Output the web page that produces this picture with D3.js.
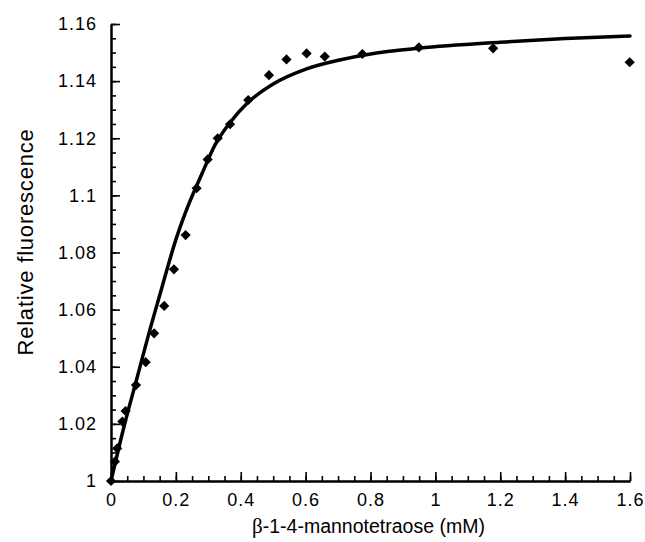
<!DOCTYPE html>
<html>
<head>
<meta charset="utf-8">
<script src="https://cdn.jsdelivr.net/npm/d3@7"></script>
<style>
  html, body { margin: 0; padding: 0; background: #fff; }
  svg { display: block; font-family: "Liberation Sans", Arial, sans-serif; }
</style>
</head>
<body>
<div id="chart"></div>
<script>
// Binding data (relative fluorescence vs. concentration)
const concMM = [0, 0.012, 0.019, 0.035, 0.045, 0.077, 0.107, 0.133, 0.164, 0.194,
  0.230, 0.264, 0.298, 0.329, 0.367, 0.423, 0.487, 0.541, 0.603, 0.659,
  0.775, 0.949, 1.178, 1.599];
const relFluor = [1.000, 1.0068, 1.0114, 1.0208, 1.0245, 1.0336, 1.0416, 1.0517, 1.0613, 1.0741,
  1.0861, 1.1025, 1.1126, 1.1200, 1.1249, 1.1334, 1.1421, 1.1476, 1.1497, 1.1486,
  1.1495, 1.1518, 1.1515, 1.1466];

// fitted curve
const fitX = [0, 0.040, 0.080, 0.120, 0.160, 0.200, 0.240, 0.280, 0.320, 0.367,
  0.422, 0.500, 0.603, 0.705, 0.800, 0.950, 1.200, 1.400, 1.600];
const fitY = [1.000, 1.0190, 1.0360, 1.0530, 1.0690, 1.0845, 1.0970, 1.1075, 1.1175, 1.1255,
  1.1325, 1.1390, 1.1443, 1.1474, 1.1495, 1.1515, 1.1536, 1.1549, 1.1558];

const xTickValues = [0, 0.2, 0.4, 0.6, 0.8, 1, 1.2, 1.4, 1.6];
const xTickLabels = ["0", "0.2", "0.4", "0.6", "0.8", "1", "1.2", "1.4", "1.6"];
const yTickValues = [1, 1.02, 1.04, 1.06, 1.08, 1.1, 1.12, 1.14, 1.16];
const yTickLabels = ["1", "1.02", "1.04", "1.06", "1.08", "1.1", "1.12", "1.14", "1.16"];

(function() {
  const W = 645, H = 542;
  const margin = { top: 24, right: 15, bottom: 61, left: 111 };
  const width = W - margin.left - margin.right;
  const height = H - margin.top - margin.bottom;

  const svg = d3.select("#chart").append("svg")
    .attr("width", W).attr("height", H);
  const g = svg.append("g").attr("transform", `translate(${margin.left},${margin.top})`);

  const x = d3.scaleLinear().domain([0, 1.6]).range([0, width]);
  const y = d3.scaleLinear().domain([1, 1.16]).range([height, 0]);

  // minor ticks (no labels), pointing inward
  g.append("g").attr("class", "x-minor")
    .attr("transform", `translate(0,${height})`)
    .call(d3.axisBottom(x).tickValues(x.ticks(32)).tickSize(-5).tickSizeOuter(0).tickFormat(""));
  g.append("g").attr("class", "y-minor")
    .call(d3.axisLeft(y).tickValues(y.ticks(32)).tickSize(-5).tickSizeOuter(0).tickFormat(""));

  // major ticks with labels
  const xAxis = g.append("g").attr("class", "x-major")
    .attr("transform", `translate(0,${height})`)
    .call(d3.axisBottom(x).tickValues(xTickValues).tickSize(-9).tickSizeOuter(0)
      .tickPadding(12).tickFormat((d, i) => xTickLabels[i]));
  const yAxis = g.append("g").attr("class", "y-major")
    .call(d3.axisLeft(y).tickValues(yTickValues).tickSize(-9).tickSizeOuter(0)
      .tickPadding(14).tickFormat((d, i) => yTickLabels[i]));

  g.selectAll(".domain").attr("stroke", "#000").attr("stroke-width", 2);
  g.selectAll(".tick line").attr("stroke", "#000").attr("stroke-width", 1.6);
  [xAxis, yAxis].forEach(a => a.selectAll("text")
    .style("font-size", "18px").style("letter-spacing", "1px").attr("fill", "#000"));
  xAxis.selectAll("text").attr("dy", "0.72em");

  // fitted curve
  const fitData = fitX.map((v, i) => [v, fitY[i]]);
  g.append("path").datum(fitData)
    .attr("fill", "none").attr("stroke", "#000").attr("stroke-width", 3.5)
    .attr("stroke-linejoin", "round").attr("stroke-linecap", "round")
    .attr("d", d3.line().x(d => x(d[0])).y(d => y(d[1])).curve(d3.curveMonotoneX));

  // data points (filled diamonds)
  const pts = concMM.map((v, i) => [v, relFluor[i]]);
  const diamond = d3.symbol().type(d3.symbolSquare).size(52);
  g.selectAll(".pt").data(pts).enter().append("path")
    .attr("class", "pt")
    .attr("d", diamond)
    .attr("transform", d => `translate(${x(d[0])},${y(d[1])}) rotate(45)`)
    .attr("fill", "#000");

  // axis titles
  const xt = svg.append("text")
    .attr("x", margin.left + x(0.8) - 2).attr("y", 533)
    .attr("text-anchor", "middle")
    .style("font-size", "19.5px").attr("fill", "#000");
  xt.append("tspan").style("font-family", "'Liberation Serif', 'Times New Roman', serif")
    .style("font-size", "21px").text("β");
  xt.append("tspan").text("-1-4-mannotetraose (mM)");

  svg.append("text")
    .attr("transform", `translate(33,${242}) rotate(-90)`)
    .attr("text-anchor", "middle")
    .style("font-size", "22px").style("letter-spacing", "0.8px")
    .attr("fill", "#000")
    .text("Relative fluorescence");
})();
</script>
</body>
</html>
